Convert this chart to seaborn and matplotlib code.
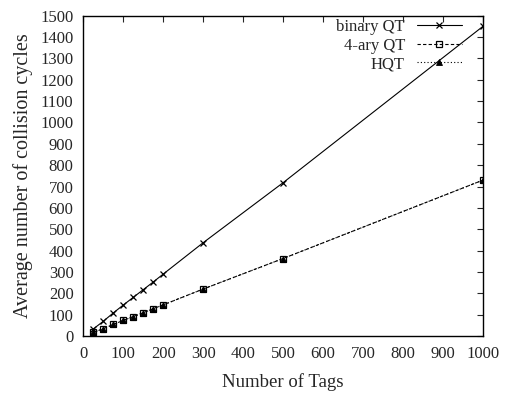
import numpy as np
import pandas as pd
import matplotlib
matplotlib.use('Agg')
import matplotlib.pyplot as plt
import seaborn as sns

# ── Data ───────────────────────────────────────────────────────────────────────
tags = [25, 50, 75, 100, 125, 150, 175, 200, 300, 500, 1000]
binary_qt = [33, 69, 108, 145, 181, 217, 253, 290, 437, 718, 1450]
four_ary_qt = [17, 34, 54, 73, 91, 109, 128, 146, 220, 363, 730]
hqt = [17, 34, 54, 73, 91, 109, 128, 146, 220, 363, 730]

x_ticks = list(range(0, 1001, 100))
y_ticks = list(range(0, 1501, 100))

# ── Plot ───────────────────────────────────────────────────────────────────────
sns.set_style('white')
plt.rcParams['font.family'] = ['Liberation Serif', 'DejaVu Serif']

fig = plt.figure(figsize=(5.11, 3.93), dpi=100)
ax = fig.add_axes([0.163, 0.145, 0.782, 0.815])

styles = [
    ('binary QT', binary_qt, dict(marker='x', linestyle='-', markersize=5,
                                  markeredgewidth=0.9)),
    ('4-ary QT', four_ary_qt, dict(marker='s', linestyle=(0, (3, 2)), markersize=4.5,
                                   markerfacecolor='black', markeredgewidth=0.9)),
    ('HQT', hqt, dict(marker='^', linestyle=(0, (1, 2)), markersize=4,
                      markerfacecolor='black', markeredgewidth=0.6)),
]
for name, vals, kw in styles:
    sns.lineplot(x=tags, y=vals, color='black', linewidth=0.8,
                 markeredgecolor='black', label=name, ax=ax, **kw)

ax.set_xlim(0, 1000)
ax.set_ylim(0, 1500)
ax.set_xticks(x_ticks)
ax.set_yticks(y_ticks)
ax.tick_params(direction='in', top=True, right=True, length=4, width=0.8,
               labelsize=12, pad=7)
for s in ax.spines.values():
    s.set_linewidth(1.0)
    s.set_color('black')

ax.set_xlabel('Number of Tags', fontsize=13.5, labelpad=8)
ax.set_ylabel('Average number of collision cycles', fontsize=14.5, labelpad=5)

handles, labels = ax.get_legend_handles_labels()
handles[1].set_markerfacecolor('none')
ax.legend(handles, labels, loc='upper right', markerfirst=False, frameon=False,
          fontsize=12, handlelength=2.7, handletextpad=0.7, labelspacing=0.15,
          borderaxespad=0.0, borderpad=0.2, bbox_to_anchor=(0.955, 1.0))

plt.savefig('out.png', dpi=100)
